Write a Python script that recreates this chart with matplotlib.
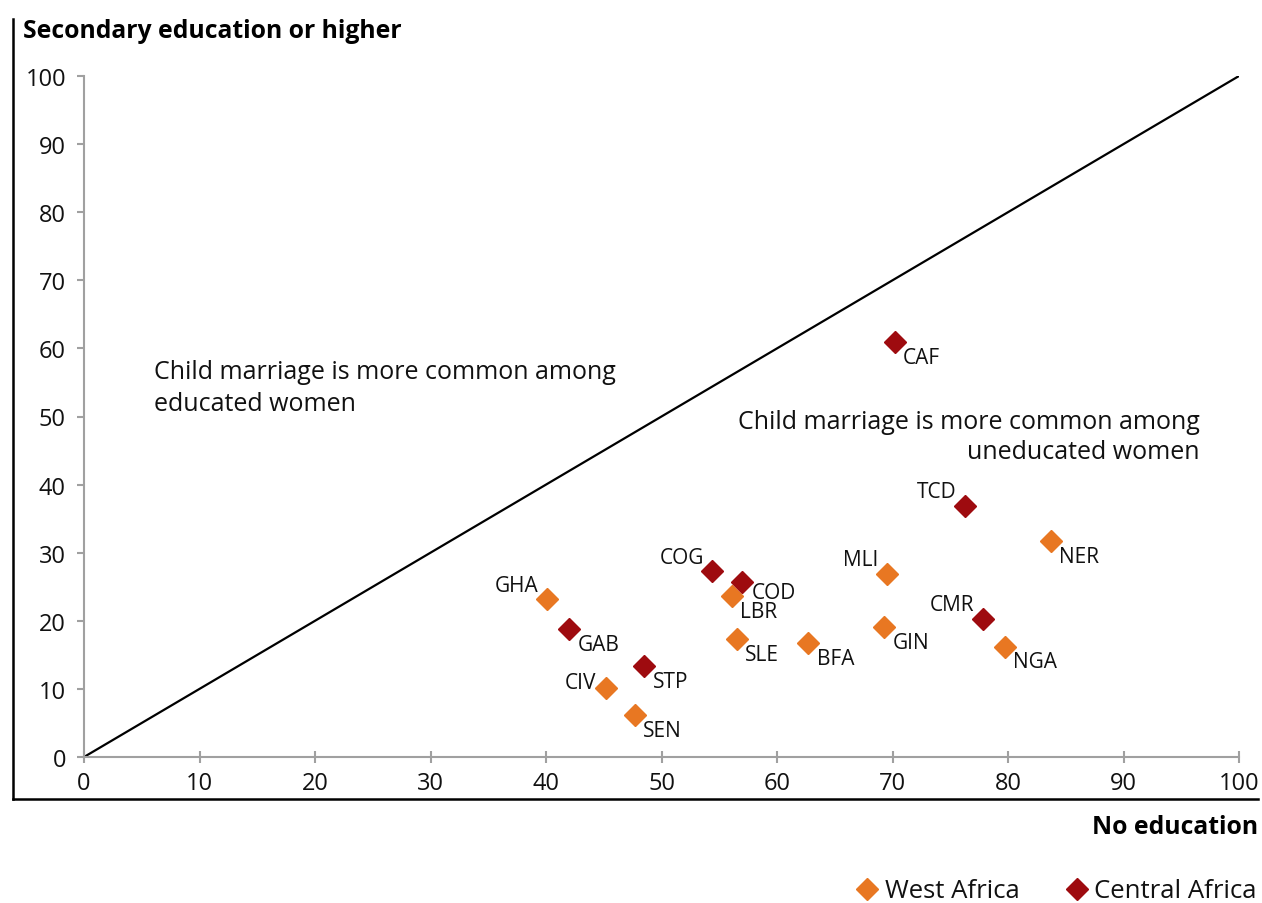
import matplotlib
matplotlib.use("Agg")
import matplotlib.pyplot as plt
from matplotlib.lines import Line2D

plt.rcParams['font.family'] = ['Open Sans', 'DejaVu Sans']

# Data
west_codes = ["NER", "MLI", "GIN", "NGA", "LBR", "SLE", "BFA", "GHA", "CIV", "SEN"]
west_x = [83.7, 69.5, 69.3, 79.7, 56.1, 56.5, 62.7, 40.1, 45.2, 47.7]
west_y = [31.7, 26.9, 19.1, 16.2, 23.6, 17.3, 16.7, 23.2, 10.1, 6.2]

central_codes = ["CAF", "TCD", "CMR", "COG", "COD", "GAB", "STP"]
central_x = [70.2, 76.3, 77.8, 54.4, 57.0, 42.0, 48.5]
central_y = [60.9, 36.9, 20.3, 27.3, 25.7, 18.8, 13.4]

ticks = [0, 10, 20, 30, 40, 50, 60, 70, 80, 90, 100]

# label placement style: 'br' below-right, 'tl' above-left, 'l' left, 'r' right
placement = {
    "CAF": "br", "TCD": "tl", "NER": "br", "MLI": "tl", "CMR": "tl",
    "GIN": "br", "NGA": "br", "COG": "tl", "COD": "r", "LBR": "br",
    "SLE": "br", "BFA": "br", "GHA": "tl", "GAB": "br", "STP": "br",
    "CIV": "l", "SEN": "br",
}
offsets = {"br": ((6, -11), "left"), "tl": ((-6, 10), "right"),
           "l": ((-7, 4), "right"), "r": ((7, -7.5), "left")}

ORANGE = "#E87722"
RED = "#9E0B0F"
GRAY = "#A0A0A0"
TXT = "#111111"

fig = plt.figure(figsize=(12.62, 9.04), dpi=100)
ax = fig.add_axes([84/1262, 1-758/904, (1239-84)/1262, (758-77)/904])

ax.plot([0, 100], [0, 100], color="black", lw=1.6, zorder=1)
ax.plot(west_x, west_y, linestyle="none", marker="D", ms=11.5, color=ORANGE, zorder=3)
ax.plot(central_x, central_y, linestyle="none", marker="D", ms=11.5, color=RED, zorder=3)

for codes, xs, ys in [(west_codes, west_x, west_y), (central_codes, central_x, central_y)]:
    for c, x, y in zip(codes, xs, ys):
        (dx, dy), ha = offsets[placement[c]]
        ax.annotate(c, (x, y), xytext=(dx, dy), textcoords="offset points",
                    ha=ha, va="center", fontsize=15, color=TXT)

ax.text(6.1, 54.3, "Child marriage is more common among\neducated women",
        ha="left", va="center", fontsize=18, linespacing=1.35, color=TXT)
ax.text(96.6, 47.1, "Child marriage is more common among\nuneducated women",
        ha="right", va="center", fontsize=18, linespacing=1.28,
        multialignment="right", color=TXT)

ax.set_xlim(0, 100)
ax.set_ylim(0, 100)
ax.set_xticks(ticks)
ax.set_yticks(ticks)
ax.set_xticklabels([str(t) for t in ticks], fontsize=17, color=TXT)
ax.set_yticklabels([str(t) for t in ticks], fontsize=17, color=TXT)
ax.tick_params(axis="x", direction="inout", length=8, width=1.5, color=GRAY, pad=6)
ax.tick_params(axis="y", direction="out", length=5, width=1.5, color=GRAY, pad=8)
for s in ["top", "right"]:
    ax.spines[s].set_visible(False)
for s in ["left", "bottom"]:
    ax.spines[s].set_color(GRAY)
    ax.spines[s].set_linewidth(1.5)
ax.patch.set_alpha(0)

# outer frame lines
fig.add_artist(Line2D([13/1262, 13/1262], [1-20/904, 1-800/904], color="black", lw=1.8, transform=fig.transFigure))
fig.add_artist(Line2D([13/1262, 1258/1262], [1-800/904, 1-800/904], color="black", lw=1.8, transform=fig.transFigure))

fig.text(23/1262, 1-32/904, "Secondary education or higher", ha="left", va="center",
         fontsize=17.8, fontweight="bold")
fig.text(1258/1262, 1-828/904, "No education", ha="right", va="center",
         fontsize=17.8, fontweight="bold")

handles = [Line2D([], [], linestyle="none", marker="D", ms=11.5, color=ORANGE),
           Line2D([], [], linestyle="none", marker="D", ms=11.5, color=RED)]
fig.legend(handles, ["West Africa", "Central Africa"], loc="center right",
           bbox_to_anchor=(1257/1262, 1-892/904), ncol=2, frameon=False,
           handletextpad=0.1, columnspacing=1.6, handlelength=1.2,
           borderaxespad=0, borderpad=0, prop={"size": 18.5}, labelcolor=TXT)

fig.savefig("out.png", dpi=100)
